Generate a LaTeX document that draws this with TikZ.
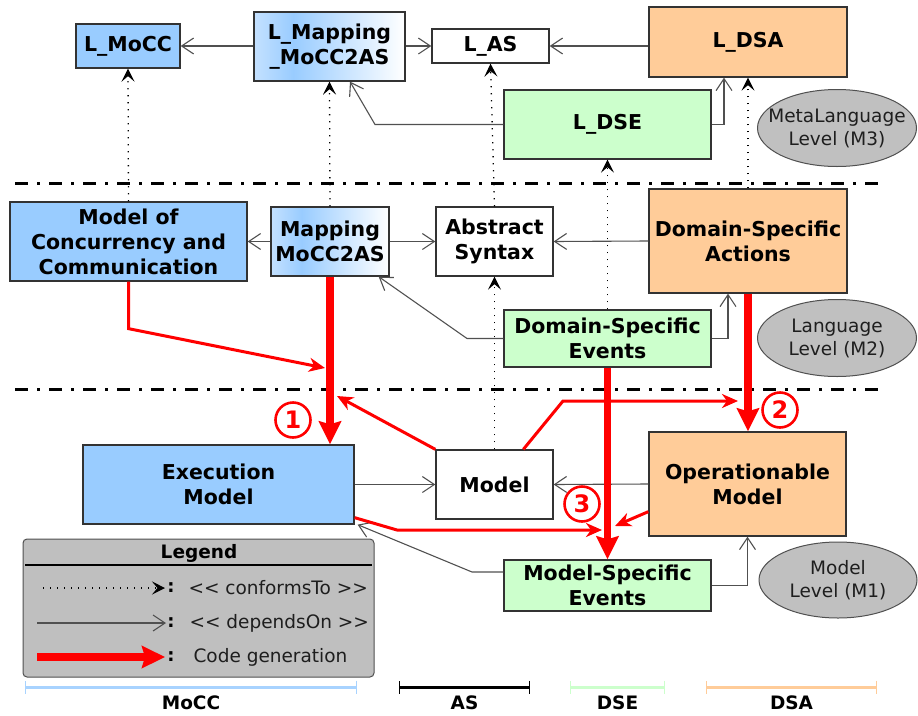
\documentclass[tikz,border=0pt]{standalone}
\usepackage{fontspec}
\newfontfamily\dvs{DejaVu Sans}
\usetikzlibrary{arrows.meta,calc,shapes.geometric}

\definecolor{moccblue}{HTML}{99CCFF}
\definecolor{mlight}{HTML}{C4E1FF}
\definecolor{dsaorange}{HTML}{FFCC99}
\definecolor{dsegreen}{HTML}{CCFFCC}
\definecolor{lvlgray}{HTML}{C0C0C0}
\definecolor{leggray}{HTML}{BFBFBF}
\definecolor{edgecol}{HTML}{333333}
\definecolor{depcol}{HTML}{505050}
\definecolor{txtgray}{HTML}{1E1E1E}
\definecolor{moccbar}{HTML}{A8D3FF}

% light blue -> blue -> white, left to right
\pgfdeclarehorizontalshading{mapshade}{100bp}{color(0bp)=(mlight); color(25bp)=(mlight); color(38bp)=(moccblue); color(75bp)=(white); color(100bp)=(white)}

\tikzset{
  box/.style={draw=edgecol, line width=1.3pt, inner sep=0pt, align=center,
    font=\dvs\bfseries\fontsize{20.5}{25}\selectfont},
  bluebox/.style={box, fill=moccblue},
  mapbox/.style={box, shading=mapshade},
  whitebox/.style={box, fill=white},
  orangebox/.style={box, fill=dsaorange},
  greenbox/.style={box, fill=dsegreen},
  lvl/.style={ellipse, draw=depcol, line width=1pt, fill=lvlgray, inner sep=0pt},
  lvltext/.style={align=center, text=txtgray, font=\dvs\fontsize{18.5}{23}\selectfont},
  dep/.style={draw=depcol, line width=1.1pt, -{Straight Barb[length=12pt,width=16pt]}},
  conf/.style={draw=black, line width=1.3pt, dash pattern=on 1.3pt off 5.7pt,
    -{Stealth[length=13pt,width=13pt,inset=5.5pt]}},
  gen/.style={draw=red, line width=7.5pt, -{Stealth[length=23pt,width=22pt,inset=3pt]}},
  genthin/.style={draw=red, line width=3pt, -{Stealth[length=16pt,width=14pt,inset=5pt]}},
  sepline/.style={draw=black, line width=3pt, dash pattern=on 13pt off 9pt on 3pt off 9pt},
  num/.style={circle, draw=red, line width=2.6pt, minimum size=35pt, inner sep=0pt,
    text=red, font=\dvs\bfseries\fontsize{24}{24}\selectfont},
  legtext/.style={anchor=west, text=txtgray, font=\dvs\fontsize{18.5}{22}\selectfont},
  colon/.style={font=\dvs\bfseries\fontsize{18}{22}\selectfont},
  bar/.style={line width=3pt, {Bar[width=13pt,line width=1pt]}-{Bar[width=13pt,line width=1pt]}},
  barlabel/.style={font=\dvs\bfseries\fontsize{18.5}{20}\selectfont},
}

\begin{document}
\begin{tikzpicture}[x=1pt, y=-1pt]
\useasboundingbox (0,0) rectangle (918,715);

% level separators
\draw[sepline] (15,183) -- (883,183);
\draw[sepline] (15,389) -- (883,389);

% ---- metalanguage level (M3)
\node[bluebox, minimum width=104pt, minimum height=44pt] (lmocc) at (128,46) {L\_MoCC};
\node[mapbox, minimum width=151pt, minimum height=69pt] (lmap) at (329.5,46.5) {L\_Mapping\\\_MoCC2AS};
\node[whitebox, minimum width=117pt, minimum height=34pt] (las) at (490.5,46) {L\_AS};
\node[orangebox, minimum width=198pt, minimum height=70pt] (ldsa) at (748,42) {L\_DSA};
\node[greenbox, minimum width=207pt, minimum height=69pt] (ldse) at (607.5,124.5) {L\_DSE};
\node[lvl, minimum width=159pt, minimum height=77pt] (m3) at (837,128) {};
\node[lvltext] at (m3) {MetaLanguage\\Level (M3)};

% ---- language level (M2)
\node[bluebox, minimum width=237pt, minimum height=79pt] (mocc) at (128.5,241.5) {Model of\\Concurrency and\\Communication};
\node[mapbox, minimum width=118pt, minimum height=69pt] (map) at (330,241.5) {Mapping\\MoCC2AS};
\node[whitebox, minimum width=117pt, minimum height=69pt] (as) at (494.5,241.5) {Abstract\\Syntax};
\node[orangebox, minimum width=198pt, minimum height=104pt] (dsa) at (748,241) {Domain-Specific\\Actions};
\node[greenbox, minimum width=207pt, minimum height=57pt] (dse) at (607.5,338.5) {Domain-Specific\\Events};
\node[lvl, minimum width=159pt, minimum height=77pt] (m2) at (837,338) {};
\node[lvltext] at (m2) {Language\\Level (M2)};

% ---- model level (M1)
\node[bluebox, minimum width=271pt, minimum height=79pt] (exec) at (218.5,484.5) {Execution\\Model};
\node[whitebox, minimum width=117pt, minimum height=69pt] (model) at (494.5,484.5) {Model};
\node[orangebox, minimum width=197pt, minimum height=104pt] (op) at (747.5,484) {Operationable\\Model};
\node[greenbox, minimum width=207pt, minimum height=51pt] (mse) at (607.5,585.5) {Model-Specific\\Events};
\node[lvl, minimum width=158pt, minimum height=76pt] (m1) at (838,580) {};
\node[lvltext] at (m1) {Model\\Level (M1)};

% conformsTo
\draw[conf] (mocc.north) -- (lmocc.south);
\draw[conf] (map.north) -- (lmap.south);
\draw[conf] (as.north) -- (las.south);
\draw[conf] (dse.north) -- (ldse.south);
\draw[conf] (dsa.north) -- (ldsa.south);
\draw[conf] (model.north) -- (as.south);

% dependsOn, M3
\draw[dep] (lmap.west |- lmocc) -- (lmocc.east);
\draw[dep] (lmap.east |- las) -- (las.west);
\draw[dep] (ldsa.west |- las) -- (las.east);
\draw[dep] (ldse.west) -- (375,124.5) -- ($(lmap.south)+(20.5,0)$);
\draw[dep] (ldse.east) -| ($(ldsa.south)+(-24,0)$);

% dependsOn, M2
\draw[dep] (map.west) -- (mocc.east);
\draw[dep] (map.east) -- (as.west);
\draw[dep] (dsa.west) -- (as.east);
\draw[dep] (dse.west) -- (467,338.5) -- ($(map.south east)+(-11,0)$);
\draw[dep] (dse.east) -| ($(dsa.south)+(-20,0)$);

% dependsOn, M1
\draw[dep] (exec.east) -- (model.west);
\draw[dep] (op.west) -- (model.east);
\draw[dep] ($(mse.west)+(0,-13.5)$) -- (472,572) -- ($(exec.south east)+(3,0)$);
\draw[dep] (mse.east) -| (op.south);

% code generation
\draw[genthin] (mocc.south) -- ++(0,47) -- (325,368);
\draw[genthin] (model.north west) -- (337,396);
\draw[genthin] ($(model.north west)+(88,0)$) -- (563,401) -- (738,401);
\draw[genthin] ($(exec.south east)+(0,-7)$) -- (397,530) -- (602,530);
\draw[genthin] ($(op.south west)+(0,-25)$) -- (615,526);
\draw[gen] (map.south) -- (exec.north -| map.south);
\draw[gen] (dsa.south) -- (op.north -| dsa.south);
\draw[gen] (dse.south) -- (mse.north);

\node[num] (n1) at (293,420) {1};
\node[num] (n2) at (780,410) {2};
\node[num] (n3) at (582,504) {3};

% legend
\draw[draw=depcol, line width=1pt, fill=leggray, rounded corners=4pt] (23,539) rectangle (374,677);
\node[font=\dvs\bfseries\fontsize{18.5}{22}\selectfont] (legt) at (199,553) {Legend};
\draw[line width=1.2pt] (25,565) -- (372,565);
\draw[conf] (43,588) -- (165,588);
\node[colon] at (171,588) {:};
\node[legtext] at (185,588) {<< conformsTo >>};
\draw[dep] (37,623) -- (166,623);
\node[colon] at (171,623) {:};
\node[legtext] at (186,623) {<< dependsOn >>};
\draw[gen] (37,657) -- (165,657);
\node[colon] at (171,657) {:};
\node[legtext] at (190,657) {Code generation};

% concern bars
\draw[bar, draw=moccbar] (25,687) -- (357,687);
\node[barlabel] at (191,703) {MoCC};
\draw[bar, draw=black] (399,687) -- (530,687);
\node[barlabel] at (464.5,703) {AS};
\draw[bar, draw=dsegreen] (570,687) -- (665,687);
\node[barlabel] at (617.5,703) {DSE};
\draw[bar, draw=dsaorange] (706,687) -- (877,687);
\node[barlabel] at (791.5,703) {DSA};
\end{tikzpicture}
\end{document}
